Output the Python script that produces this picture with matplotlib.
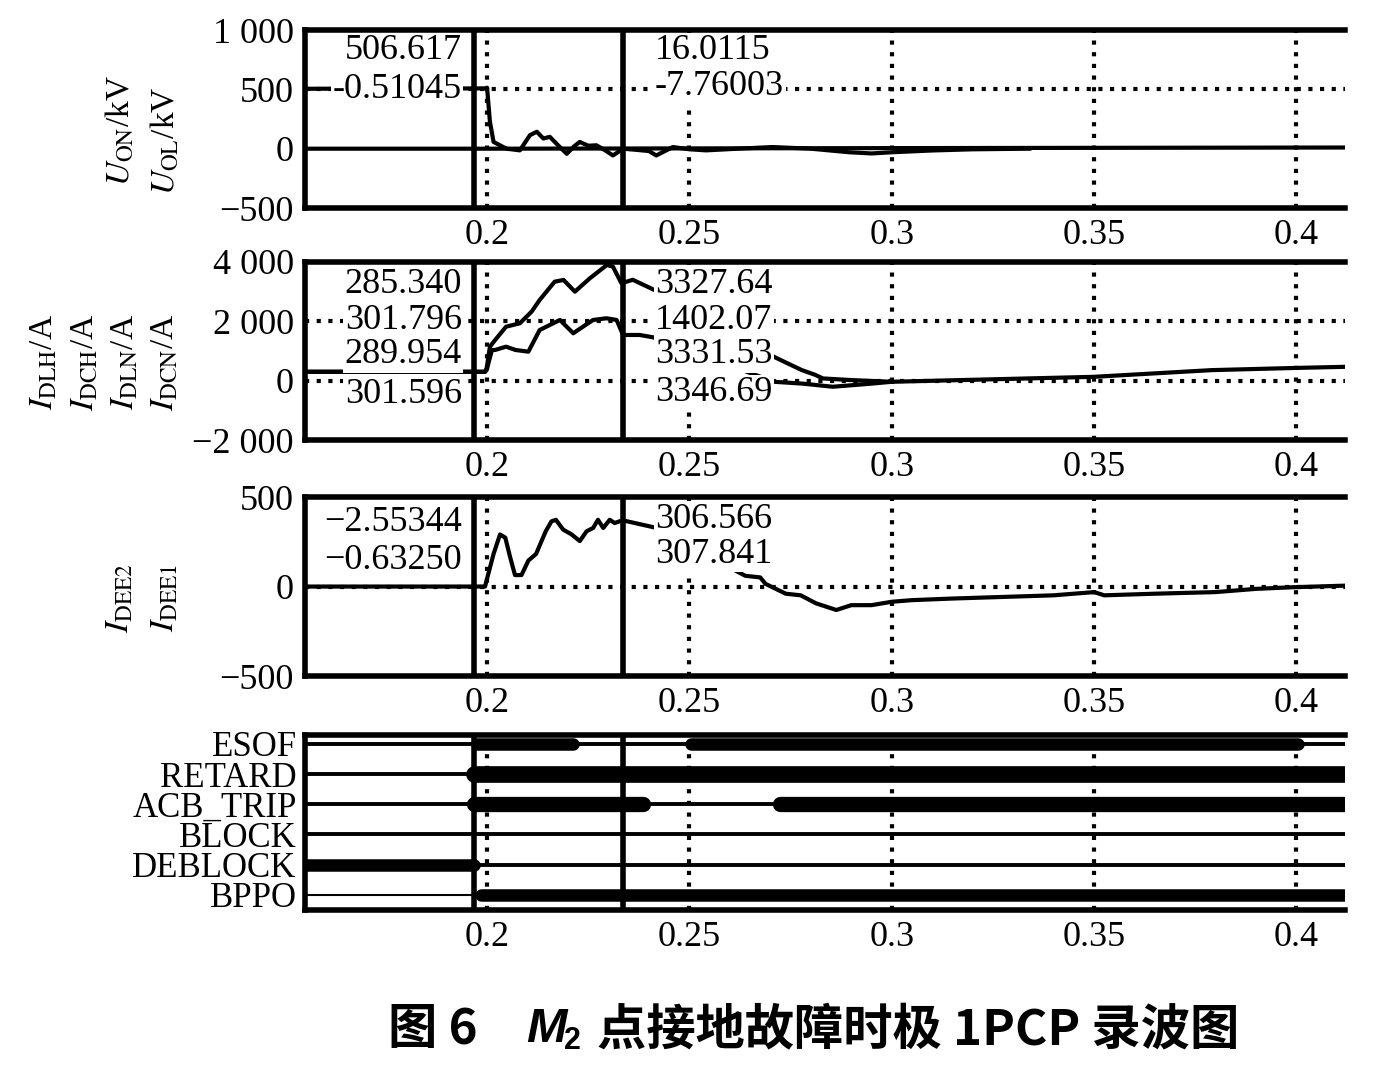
import matplotlib
matplotlib.use("Agg")
import matplotlib.pyplot as plt

plt.rcParams["font.family"] = ["Liberation Serif", "DejaVu Serif"]
plt.rcParams["mathtext.fontset"] = "stix"

# time axis
x_ticks = [0.2, 0.25, 0.3, 0.35, 0.4]
x_ticklabels = ["0.2", "0.25", "0.3", "0.35", "0.4"]
x_min, x_max = 0.155, 0.412
cursor_times = [0.1968, 0.2335]

# panel 1: voltages (kV)
t_uon = [0.155, 0.1995, 0.2000, 0.2007, 0.2016, 0.2048, 0.2081, 0.2106, 0.2123, 0.2139,
         0.2155, 0.2175, 0.2197, 0.2215, 0.2229, 0.2250, 0.2270, 0.2290, 0.2311, 0.2336,
         0.2370, 0.2400, 0.2418, 0.2459, 0.2500, 0.2541, 0.2620, 0.2705, 0.2800, 0.2895,
         0.2950, 0.3000, 0.3100, 0.3200, 0.3340]
u_on = [505, 508, 514, 228, 57, 0, -14, 114, 143, 86,
        100, 30, -43, 20, 57, 25, 29, -10, -57, 0,
        -10, -20, -57, 14, -5, -14, 0, 14, 0, -30,
        -40, -30, -15, -5, 0]
t_uol = [0.155, 0.2, 0.3, 0.412]
u_ol = [0, 0, 5, 10]
p1_yticks = [1000, 500, 0, -500]
p1_yticklabels = ["1 000", "500", "0", "\u2212500"]
p1_left_vals = ["506.617", "-0.51045"]
p1_right_vals = ["16.0115", "-7.76003"]

# panel 2: currents (A)
t_i_upper = [0.155, 0.1995, 0.1999, 0.2007, 0.2020, 0.2047, 0.2081, 0.2110, 0.2130, 0.2167,
             0.2189, 0.2217, 0.2254, 0.2296, 0.2311, 0.2332, 0.2360, 0.2500, 0.2709, 0.2740,
             0.2778, 0.2810, 0.2830, 0.2900, 0.3000]
i_upper = [300, 300, 418, 1146, 1372, 1820, 1934, 2326, 2720, 3336,
           3394, 3000, 3451, 3899, 3842, 3282, 3400, 2500, 804, 600,
           355, 200, 75, 20, -37]
t_i_lower = [0.155, 0.1995, 0.1999, 0.2012, 0.2020, 0.2047, 0.2070, 0.2102, 0.2130, 0.2155,
             0.2180, 0.2213, 0.2237, 0.2262, 0.2295, 0.2320, 0.2336, 0.2377, 0.2410, 0.2709,
             0.2780, 0.2854, 0.2950, 0.3000, 0.3500, 0.3790, 0.4000, 0.4120]
i_lower = [300, 300, 360, 1035, 1035, 1146, 1035, 977, 1708, 1877,
           2046, 1597, 1820, 2046, 2103, 2046, 1540, 1540, 1462, -37,
           -100, -205, -100, -37, 130, 355, 430, 467]
p2_yticks = [4000, 2000, 0, -2000]
p2_yticklabels = ["4 000", "2 000", "0", "\u22122 000"]
p2_left_vals = ["285.340", "301.796", "289.954", "301.596"]
p2_right_vals = ["3327.64", "1402.07", "3331.53", "3346.69"]

# panel 3: I_DEE (A)
t_idee = [0.155, 0.1995, 0.1999, 0.2016, 0.2032, 0.2045, 0.2057, 0.2069, 0.2085, 0.2102,
          0.2121, 0.2145, 0.2159, 0.2170, 0.2188, 0.2209, 0.2229, 0.2246, 0.2262, 0.2274,
          0.2287, 0.2303, 0.2315, 0.2335, 0.2414, 0.2638, 0.2675, 0.2688, 0.2738, 0.2775,
          0.2813, 0.2863, 0.2900, 0.2950, 0.3000, 0.3050, 0.3150, 0.3275, 0.3400, 0.3500,
          0.3525, 0.3650, 0.3800, 0.3900, 0.3988, 0.4120]
i_dee = [0, 0, 36, 182, 291, 273, 164, 64, 64, 145,
         182, 309, 364, 373, 318, 291, 254, 309, 327, 373,
         327, 373, 355, 370, 330, 60, 51, 15, -40, -49,
         -94, -131, -104, -104, -85, -76, -67, -58, -49, -31,
         -49, -40, -31, -13, -4, 5]
p3_yticks = [500, 0, -500]
p3_yticklabels = ["500", "0", "\u2212500"]
p3_left_vals = ["\u22122.55344", "\u22120.63250"]
p3_right_vals = ["306.566", "307.841"]

# panel 4: binary signals, intervals where signal is on
signal_names = ["ESOF", "RETARD", "ACB_TRIP", "BLOCK", "DEBLOCK", "BPPO"]
signal_on = [
    [(0.1975, 0.2212), (0.2505, 0.4005)],
    [(0.1968, 0.412)],
    [(0.1968, 0.2385), (0.2724, 0.412)],
    [],
    [(0.155, 0.1968)],
    [(0.1985, 0.412)],
]

fig = plt.figure(figsize=(13.97, 10.68), dpi=100)

L, W = 0.2183, 0.7445
ax1 = fig.add_axes([L, 0.8052, W, 0.1667])
ax2 = fig.add_axes([L, 0.5880, W, 0.1667])
ax3 = fig.add_axes([L, 0.3670, W, 0.1676])
ax4 = fig.add_axes([L, 0.1480, W, 0.1639])

grid_kw = dict(color="black", linestyle=(0, (1.0, 1.8)), linewidth=3.0, zorder=1)
line_kw = dict(color="black", linewidth=3.0, zorder=3)
fs = 26


def setup(ax, yticks, ylabels, ylim):
    ax.set_xlim(x_min, x_max)
    ax.set_ylim(*ylim)
    ax.set_xticks(x_ticks)
    ax.set_xticklabels(x_ticklabels)
    ax.set_yticks(yticks)
    ax.set_yticklabels(ylabels)
    ax.tick_params(axis="both", length=0, labelsize=fs, pad=8)
    for s in ["left", "top", "bottom"]:
        ax.spines[s].set_linewidth(4)
    ax.spines["right"].set_visible(False)
    for xt in x_ticks:
        ax.axvline(xt, **grid_kw)
    for c in cursor_times:
        ax.axvline(c, color="black", linewidth=4, zorder=6)


def cursor_text(ax, left_vals, right_vals, ys_left, ys_right):
    box = dict(facecolor="white", edgecolor="none", pad=1.0)
    for i, (v, y) in enumerate(zip(left_vals, ys_left)):
        ax.text(0.151, y, v, transform=ax.transAxes, ha="right", va="center",
                fontsize=fs, bbox=box, zorder=5.5 - 0.1 * i)
    for i, (v, y) in enumerate(zip(right_vals, ys_right)):
        ax.text(0.3365, y, v, transform=ax.transAxes, ha="left", va="center",
                fontsize=fs, bbox=box, zorder=5.5 - 0.1 * i)


# panel 1
setup(ax1, p1_yticks, p1_yticklabels, (-500, 1000))
ax1.axhline(500, **grid_kw)
ax1.plot(t_uol, u_ol, **line_kw)
ax1.plot(t_uon, u_on, **line_kw)
cursor_text(ax1, p1_left_vals, p1_right_vals, [0.885, 0.665], [0.885, 0.68])

# panel 2
setup(ax2, p2_yticks, p2_yticklabels, (-2000, 4000))
for yv in [2000, 0]:
    ax2.axhline(yv, **grid_kw)
ax2.plot(t_i_upper, i_upper, **line_kw)
ax2.plot(t_i_lower, i_lower, **line_kw)
cursor_text(ax2, p2_left_vals, p2_right_vals,
            [0.871, 0.669, 0.478, 0.253], [0.871, 0.669, 0.478, 0.265])

# panel 3
setup(ax3, p3_yticks, p3_yticklabels, (-500, 500))
ax3.axhline(0, **grid_kw)
ax3.plot(t_idee, i_dee, **line_kw)
cursor_text(ax3, p3_left_vals, p3_right_vals, [0.86, 0.648], [0.875, 0.68])

# panel 4
levels = list(range(len(signal_names) - 1, -1, -1))
setup(ax4, levels, signal_names, (-0.5, 5.3))
thick = [9, 12, 11, 9, 9, 9]
for lvl, name, ons, lw in zip(levels, signal_names, signal_on, thick):
    ax4.plot([x_min, x_max], [lvl, lvl], color="black",
             linewidth=1.5 if name == "BPPO" else 2.8, zorder=3)
    for s, e in ons:
        ax4.plot([s, e], [lvl, lvl], color="black", linewidth=lw,
                 solid_capstyle="round", zorder=4)
ax4.tick_params(axis="y", labelsize=25, pad=6)

# y axis labels
ylab_kw = dict(rotation=90, ha="center", va="center", fontsize=24)
fig.text(0.086, 0.878, r"$U_{\mathrm{ON}}$/kV", **ylab_kw)
fig.text(0.118, 0.868, r"$U_{\mathrm{OL}}$/kV", **ylab_kw)
for xf, sub in zip([0.032, 0.061, 0.090, 0.118], ["DLH", "DCH", "DLN", "DCN"]):
    fig.text(xf, 0.661, r"$I_{\mathrm{" + sub + r"}}$/A", **ylab_kw)
fig.text(0.086, 0.440, r"$I_{\mathrm{DEE2}}$", **ylab_kw)
fig.text(0.118, 0.440, r"$I_{\mathrm{DEE1}}$", **ylab_kw)

# caption
cap_kw = dict(fontsize=35.5, fontweight="bold", va="center", ha="left",
              family=["Noto Sans CJK SC", "DejaVu Sans"])
fig.text(388 / 1397, 0.0356, "图 6", **cap_kw)
fig.text(526 / 1397, 0.0356, "M", fontsize=35, fontweight="bold", fontstyle="italic",
         va="center", ha="left", family=["Liberation Sans"])
fig.text(564 / 1397, 0.0256, "2", fontsize=22, fontweight="bold",
         va="center", ha="left", family=["Liberation Sans"])
fig.text(597 / 1397, 0.0356, "点接地故障时极 1PCP 录波图", **cap_kw)

fig.savefig("out.png", dpi=100)
